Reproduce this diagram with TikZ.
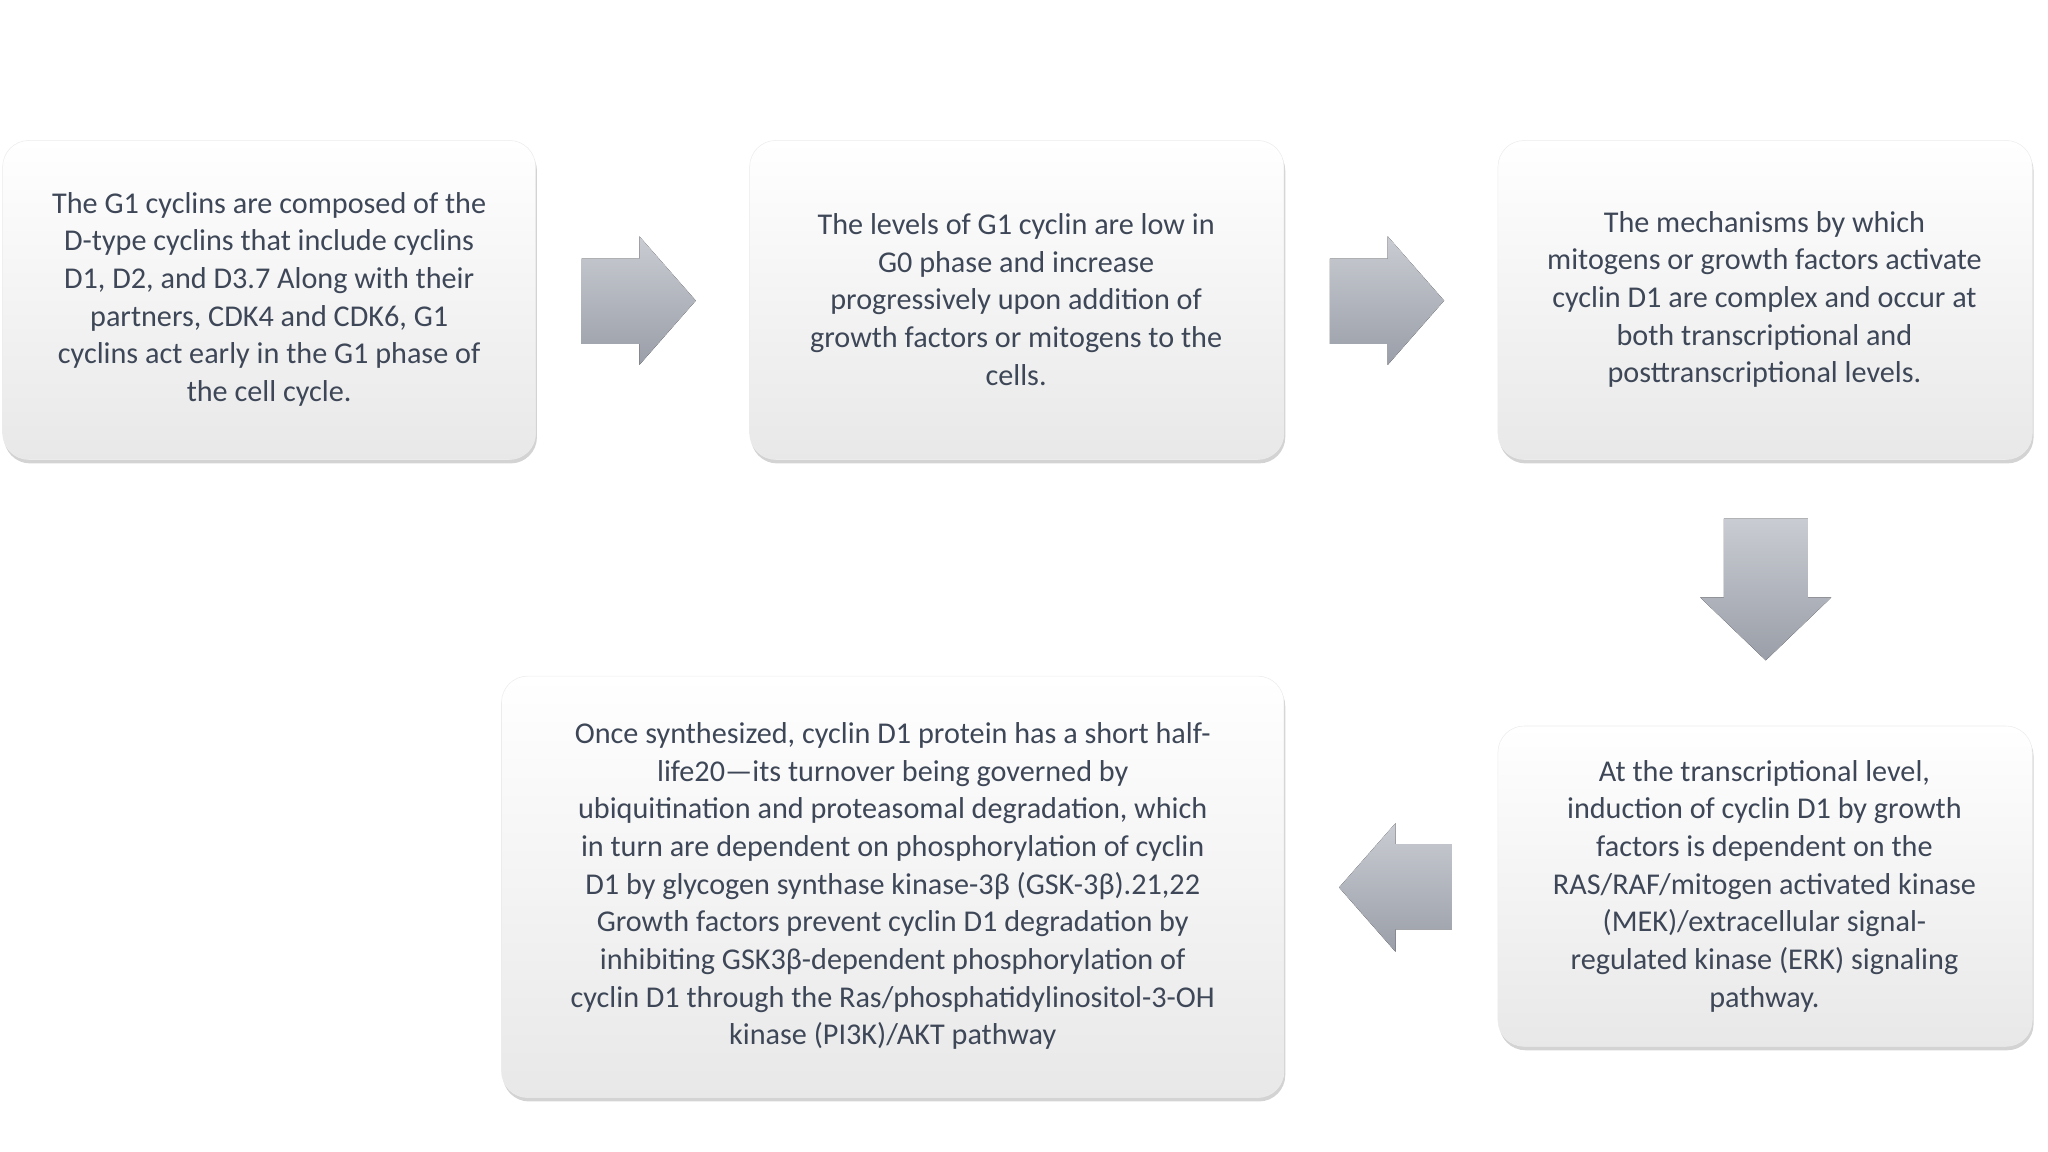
\documentclass[tikz,border=0pt]{standalone}
\usepackage{fontspec}
\setmainfont{Carlito}
\usetikzlibrary{shadows,shapes.arrows}
\definecolor{txt}{HTML}{3E4757}
\definecolor{agtop}{HTML}{C9CCD2}
\definecolor{agbot}{HTML}{9A9EA8}
\tikzset{
  card/.style={rounded corners=20pt, top color=white, bottom color=gray!18, draw=gray!15,
    drop shadow={shadow xshift=1pt, shadow yshift=-3pt, opacity=0.35, fill=gray}},
  cardtext/.style={text=txt, align=center, font=\fontsize{23}{28.7}\selectfont},
  arr/.style={top color=agtop, bottom color=agbot, draw=none}
}
\begin{document}
\begin{tikzpicture}[x=1pt,y=-1pt]
\useasboundingbox (0,0) rectangle (1560,877);
% boxes
\draw[card] (2,107) rectangle (408,350);
\node[cardtext] (t1) at (205,228) {The G1 cyclins are composed of the\\D-type cyclins that include cyclins\\D1, D2, and D3.7 Along with their\\partners, CDK4 and CDK6, G1\\cyclins act early in the G1 phase of\\the cell cycle.};
\draw[card] (571,107) rectangle (978,350);
\node[cardtext] (t2) at (774,228) {The levels of G1 cyclin are low in\\G0 phase and increase\\progressively upon addition of\\growth factors or mitogens to the\\cells.};
\draw[card] (1141,107) rectangle (1548,350);
\node[cardtext] (t3) at (1344,228) {The mechanisms by which\\mitogens or growth factors activate\\cyclin D1 are complex and occur at\\both transcriptional and\\posttranscriptional levels.};
\draw[card] (1141,553) rectangle (1548,797);
\node[cardtext] (t4) at (1344,675) {At the transcriptional level,\\induction of cyclin D1 by growth\\factors is dependent on the\\RAS/RAF/mitogen activated kinase\\(MEK)/extracellular signal-\\regulated kinase (ERK) signaling\\pathway.};
\draw[card] (382,515) rectangle (978,836);
\node[cardtext] (t5) at (680,675) {Once synthesized, cyclin D1 protein has a short half-\\life20---its turnover being governed by\\ubiquitination and proteasomal degradation, which\\in turn are dependent on phosphorylation of cyclin\\D1 by glycogen synthase kinase-3β (GSK-3β).21,22\\Growth factors prevent cyclin D1 degradation by\\inhibiting GSK3β-dependent phosphorylation of\\cyclin D1 through the Ras/phosphatidylinositol-3-OH\\kinase (PI3K)/AKT pathway};
% arrows
\fill[arr] (443,197) -- (487,197) -- (487,180) -- (530,229) -- (487,278) -- (487,262) -- (443,262) -- cycle;
\fill[arr] (1013,197) -- (1057,197) -- (1057,180) -- (1100,229) -- (1057,278) -- (1057,262) -- (1013,262) -- cycle;
\fill[arr] (1313,395) -- (1377,395) -- (1377,455) -- (1395,455) -- (1345,503) -- (1295,455) -- (1313,455) -- cycle;
\fill[arr] (1106,643) -- (1063,643) -- (1063,627) -- (1020,676) -- (1063,725) -- (1063,708) -- (1106,708) -- cycle;
\end{tikzpicture}
\end{document}
